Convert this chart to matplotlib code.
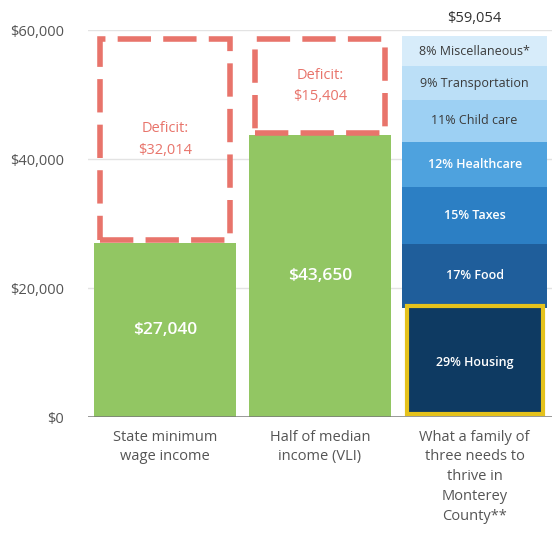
import numpy as np
import matplotlib.pyplot as plt
from matplotlib.patches import Rectangle

plt.rcParams['font.family'] = ['Open Sans', 'DejaVu Sans']

# Data
categories = ['State minimum\nwage income', 'Half of median\nincome (VLI)',
              'What a family of\nthree needs to\nthrive in\nMonterey\nCounty**']
incomes = [27040, 43650]
target = 59054
budget_labels = ['Housing', 'Food', 'Taxes', 'Healthcare', 'Child care',
                 'Transportation', 'Miscellaneous*']
budget_pct = [29, 17, 15, 12, 11, 9, 8]
budget_colors = ['#0e3a62', '#1f5e9b', '#2c7fc4', '#4ea2de', '#9dd0f3',
                 '#bbdff7', '#d7ecfa']
budget_text = ['white', 'white', 'white', 'white', '#3a3a3a', '#3a3a3a', '#3a3a3a']

green = '#92c663'
red = '#e8746b'
gray_txt = '#555555'

fig = plt.figure(figsize=(5.52, 5.47), dpi=100)
ax = fig.add_axes([0.159, 0.2376, 0.841, 0.7075])
ax.set_xlim(-0.5, 2.5)
ax.set_ylim(0, 60000)

w = 0.92
x = np.arange(3)

# grid
for yv in [20000, 40000, 60000]:
    ax.axhline(yv, color='#e3e3e3', lw=1, zorder=0)

# income bars + deficit boxes
for i, val in enumerate(incomes):
    ax.bar(x[i], val, width=w, color=green, zorder=2)
    ax.text(x[i], val / 2, f'${val:,}', color='white', ha='center', va='center',
            fontsize=12.5, fontweight='semibold', zorder=5)
    inset = 450
    rect = Rectangle((x[i] - w / 2 + 0.04, val + inset), w - 0.08,
                     target - val - 2 * inset, fill=False, edgecolor=red, lw=4,
                     linestyle=(0, (6, 2.2)), zorder=3)
    ax.add_patch(rect)
    deficit = target - val
    ax.text(x[i], (val + target) / 2, f'Deficit:\n${deficit:,}', color=red,
            ha='center', va='center', fontsize=10.5, linespacing=1.6, zorder=5)

# stacked budget bar
shares = np.array(budget_pct) / sum(budget_pct) * target
bottom = 0
for lab, pct, val, col, tc in zip(budget_labels, budget_pct, shares,
                                   budget_colors, budget_text):
    if lab == 'Housing':
        ax.bar(x[2], val - 200, bottom=bottom + 400, width=w - 0.04, color=col,
               edgecolor='#e5c21c', lw=3, zorder=3)
    else:
        ax.bar(x[2], val, bottom=bottom, width=w + 0.02, color=col, zorder=2)
    fw = 'semibold' if tc == 'white' else 'normal'
    ax.text(x[2], bottom + val / 2, f'{pct}% {lab}', color=tc, ha='center',
            va='center', fontsize=9, fontweight=fw, zorder=5)
    bottom += val

ax.text(x[2], target + 1500, f'${target:,}', ha='center', va='bottom',
        fontsize=10.5, color='#333333', clip_on=False)

# baseline
ax.axhline(0, color='#7a7a7a', lw=1.8, zorder=4)

# axes styling
for s in ax.spines.values():
    s.set_visible(False)
ax.set_yticks([0, 20000, 40000, 60000])
ax.set_yticklabels(['$0', '$20,000', '$40,000', '$60,000'], color=gray_txt,
                   fontsize=10.5)
ax.tick_params(axis='y', length=0, pad=17)
ax.set_xticks(x)
ax.set_xticklabels(categories, color=gray_txt, fontsize=10.5, linespacing=1.45,
                   va='top')
ax.tick_params(axis='x', length=0, pad=9)

fig.savefig('out.png', dpi=100)
